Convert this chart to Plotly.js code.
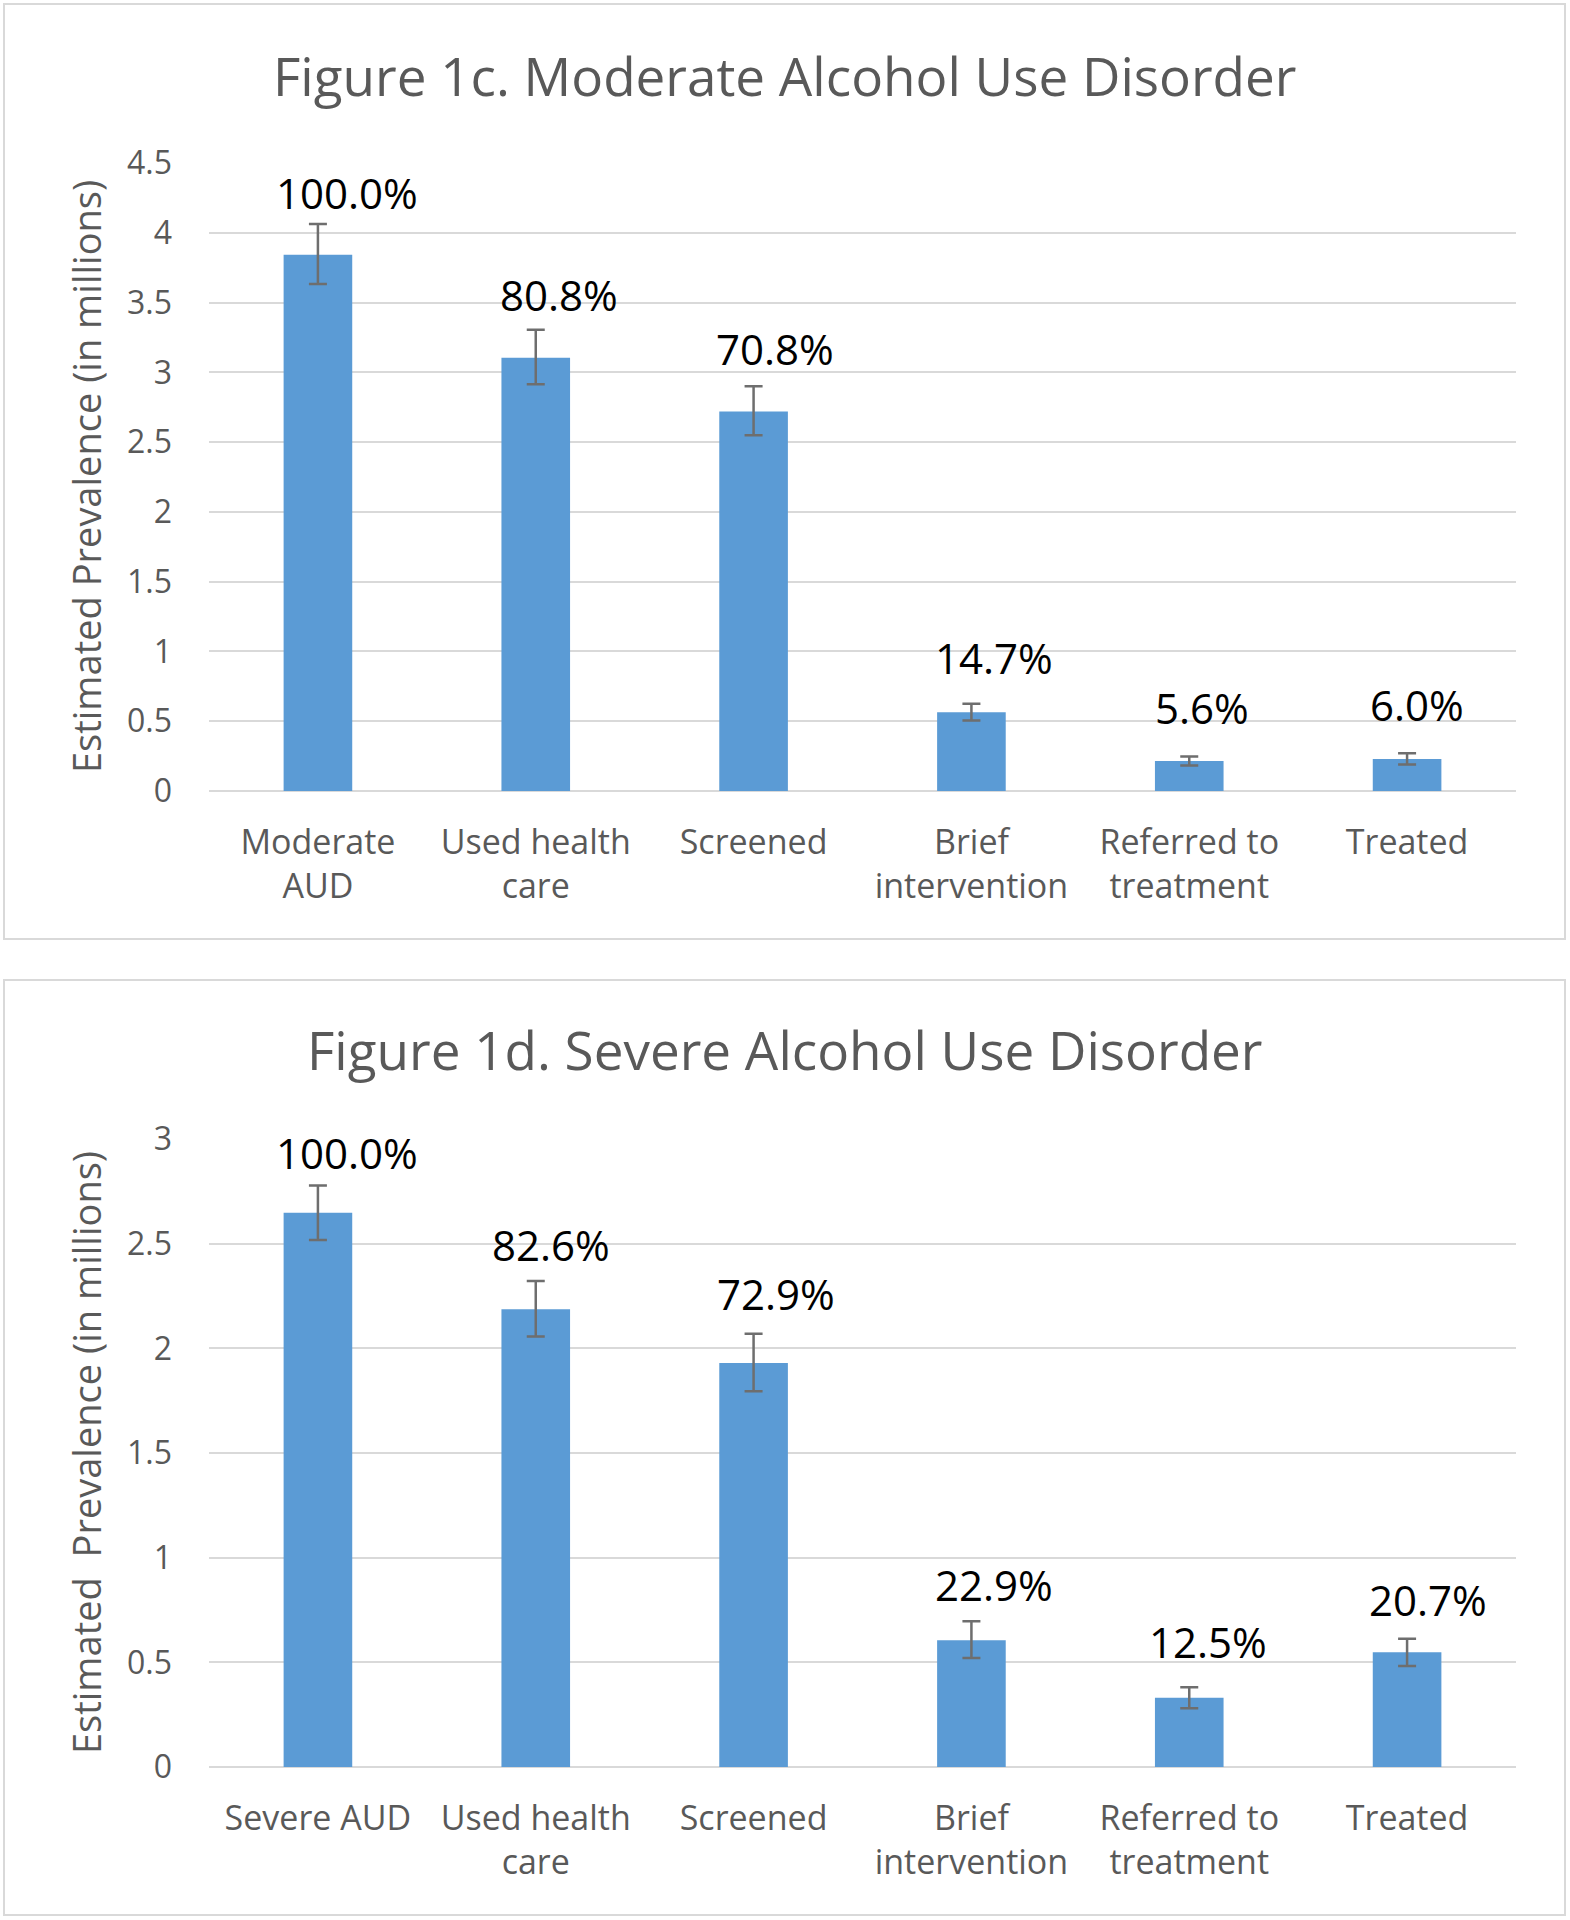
<!DOCTYPE html>
<html>
<head>
<meta charset="utf-8">
<script src="https://cdn.plot.ly/plotly-3.0.1.min.js"></script>
<style>html,body{margin:0;padding:0;background:#fff;}#chart{width:1570px;height:1920px;}</style>
</head>
<body>
<div id="chart"></div>
<script>
// ---- Data ----
const categoriesModerate = ["Moderate<br>AUD", "Used health<br>care", "Screened", "Brief<br>intervention", "Referred to<br>treatment", "Treated"];
const categoriesSevere = ["Severe AUD", "Used health<br>care", "Screened", "Brief<br>intervention", "Referred to<br>treatment", "Treated"];
const moderateValues = [3.843, 3.105, 2.72, 0.565, 0.215, 0.23];
const moderateErrPlus = [0.22, 0.20, 0.18, 0.06, 0.033, 0.04];
const moderateErrMinus = [0.21, 0.19, 0.17, 0.06, 0.032, 0.04];
const moderateLabels = ["100.0%", "80.8%", "70.8%", "14.7%", "5.6%", "6.0%"];
const severeValues = [2.648, 2.187, 1.93, 0.606, 0.331, 0.548];
const severeErrPlus = [0.13, 0.135, 0.14, 0.09, 0.05, 0.065];
const severeErrMinus = [0.13, 0.13, 0.135, 0.085, 0.05, 0.065];
const severeLabels = ["100.0%", "82.6%", "72.9%", "22.9%", "12.5%", "20.7%"];
const titleModerate = "Figure 1c. Moderate Alcohol Use Disorder";
const titleSevere = "Figure 1d. Severe Alcohol Use Disorder";
const yTitleModerate = "Estimated Prevalence (in millions)";
const yTitleSevere = "Estimated\u00a0 Prevalence (in millions)";
const yTicksModerate = [0, 0.5, 1, 1.5, 2, 2.5, 3, 3.5, 4, 4.5];
const yTicksSevere = [0, 0.5, 1, 1.5, 2, 2.5, 3];

// ---- Style / layout (not data) ----
const FONT = "'Open Sans', 'Noto Sans', sans-serif";
const GRAY = "#595959";
const BAR = "#5b9bd5";
const W = 1570, H = 1920;
const labelShiftXMod = [29, 23, 21, 23, 13, 10];
const labelShiftXSev = [29, 15, 22, 23, 19, 21];
const labelShiftYMod = [62, 63, 63, 55, 54, 54];
const labelShiftYSev = [60, 65, 69, 56, 56, 53];

function barTrace(cats, vals, plus, minus, xa, ya) {
  return {
    type: "bar", x: cats, y: vals, xaxis: xa, yaxis: ya,
    marker: {color: BAR},
    width: 0.315,
    error_y: {type: "data", symmetric: false, array: plus, arrayminus: minus,
              color: "#6e6e6e", thickness: 2.5, width: 9},
    hoverinfo: "skip", showlegend: false
  };
}

const traces = [
  barTrace(categoriesModerate, moderateValues, moderateErrPlus, moderateErrMinus, "x", "y"),
  barTrace(categoriesSevere, severeValues, severeErrPlus, severeErrMinus, "x2", "y2")
];

const xd = [209 / W, 1516 / W];
function py(px) { return 1 - px / H; }

function xAxis(anchor) {
  return {
    domain: xd, anchor: anchor, type: "category",
    range: [-0.5, 5.5],
    showgrid: false, zeroline: false, showline: false,
    ticks: "outside", ticklen: 21, tickcolor: "rgba(0,0,0,0)",
    tickfont: {family: FONT, size: 34, color: GRAY},
    fixedrange: true
  };
}
function yAxis(anchor, domain, range, ticks) {
  return {
    domain: domain, anchor: anchor, range: range,
    tickvals: ticks, ticktext: ticks.map(String),
    showgrid: true, gridcolor: "#d9d9d9", gridwidth: 2,
    zeroline: true, zerolinecolor: "#d9d9d9", zerolinewidth: 2,
    showline: false, ticks: "", ticklabelstandoff: 36,
    tickfont: {family: FONT, size: 32, color: GRAY},
    fixedrange: true
  };
}

const annotations = [];
moderateLabels.forEach((t, i) => annotations.push({
  xref: "x", yref: "y", x: categoriesModerate[i], y: moderateValues[i],
  text: t, showarrow: false, xshift: labelShiftXMod[i], yshift: labelShiftYMod[i],
  xanchor: "center", yanchor: "middle",
  font: {family: FONT, size: 42, color: "#000"}
}));
severeLabels.forEach((t, i) => annotations.push({
  xref: "x2", yref: "y2", x: categoriesSevere[i], y: severeValues[i],
  text: t, showarrow: false, xshift: labelShiftXSev[i], yshift: labelShiftYSev[i],
  xanchor: "center", yanchor: "middle",
  font: {family: FONT, size: 42, color: "#000"}
}));
annotations.push(
  {xref: "paper", yref: "paper", x: 784 / W, y: py(76), text: titleModerate, showarrow: false,
   xanchor: "center", yanchor: "middle", font: {family: FONT, size: 53, color: GRAY}},
  {xref: "paper", yref: "paper", x: 784 / W, y: py(1049), text: titleSevere, showarrow: false,
   xanchor: "center", yanchor: "middle", font: {family: FONT, size: 53, color: GRAY}},
  {xref: "paper", yref: "paper", x: 86 / W, y: py(477), text: yTitleModerate, showarrow: false,
   xanchor: "center", yanchor: "middle",
   textangle: -90, font: {family: FONT, size: 38, color: GRAY}},
  {xref: "paper", yref: "paper", x: 86 / W, y: py(1453), text: yTitleSevere, showarrow: false,
   xanchor: "center", yanchor: "middle",
   textangle: -90, font: {family: FONT, size: 38, color: GRAY}}
);

const layout = {
  width: W, height: H,
  margin: {l: 0, r: 0, t: 0, b: 0},
  paper_bgcolor: "#fff", plot_bgcolor: "rgba(0,0,0,0)",
  showlegend: false,
  xaxis: xAxis("y"),
  yaxis: yAxis("x", [py(791), py(163)], [0, 4.5], yTicksModerate),
  xaxis2: xAxis("y2"),
  yaxis2: yAxis("x2", [py(1767), py(1139)], [0, 3], yTicksSevere),
  annotations: annotations,
  shapes: [
    {type: "rect", xref: "paper", yref: "paper", x0: 4 / W, x1: 1565 / W, y0: py(939), y1: py(4),
     line: {color: "#d9d9d9", width: 2}, layer: "below"},
    {type: "rect", xref: "paper", yref: "paper", x0: 4 / W, x1: 1565 / W, y0: py(1915), y1: py(980),
     line: {color: "#d9d9d9", width: 2}, layer: "below"}
  ]
};

Plotly.newPlot("chart", traces, layout, {displayModeBar: false, staticPlot: true});
</script>
</body>
</html>
